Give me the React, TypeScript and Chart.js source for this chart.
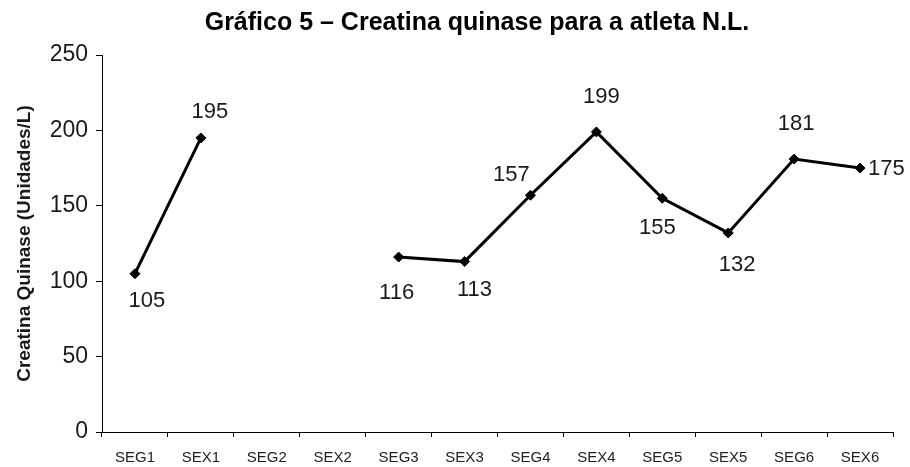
import React, { useEffect, useRef } from "react";
import { Chart, registerables } from "chart.js";

Chart.register(...registerables);

const titleText = "Gráfico 5 – Creatina quinase para a atleta N.L.";
const yAxisTitle = "Creatina Quinase (Unidades/L)";
const categories = ["SEG1", "SEX1", "SEG2", "SEX2", "SEG3", "SEX3", "SEG4", "SEX4", "SEG5", "SEX5", "SEG6", "SEX6"];
const ckValues: (number | null)[] = [105, 195, null, null, 116, 113, 157, 199, 155, 132, 181, 175];
const yTicks = [0, 50, 100, 150, 200, 250];

// label placement relative to each point (style only)
const labelOffsets: ([number, number, string] | null)[] = [
  [12, 27, "center"],
  [9, -26, "center"],
  null,
  null,
  [-2, 36, "center"],
  [10, 28, "center"],
  [-19, -20, "center"],
  [5, -35, "center"],
  [-5, 30, "center"],
  [9, 32, "center"],
  [2, -35, "center"],
  [8, 1, "left"],
];

const FONT = "'Liberation Sans', Arial, Helvetica, sans-serif";

const dataLabelPlugin = {
  id: "dataLabelsCustom",
  afterDatasetsDraw(chart: any) {
    const ctx = chart.ctx;
    const meta = chart.getDatasetMeta(0);
    ctx.save();
    ctx.font = `22px ${FONT}`;
    ctx.fillStyle = "#1a1a1a";
    ctx.textBaseline = "middle";
    meta.data.forEach((pt: any, i: number) => {
      const v = ckValues[i];
      const off = labelOffsets[i];
      if (v == null || !off) return;
      ctx.textAlign = off[2] as CanvasTextAlign;
      ctx.fillText(String(v), pt.x + off[0], pt.y + off[1]);
    });
    ctx.restore();
  },
};

const titlePlugin = {
  id: "customTitle",
  afterDraw(chart: any) {
    const ctx = chart.ctx;
    ctx.save();
    ctx.font = `bold 25px ${FONT}`;
    ctx.fillStyle = "#000";
    ctx.textAlign = "center";
    ctx.textBaseline = "middle";
    ctx.fillText(titleText, 477, 23);
    ctx.restore();
  },
};

export default function App() {
  const ref = useRef<HTMLCanvasElement>(null);
  useEffect(() => {
    if (!ref.current) return;
    const chart = new Chart(ref.current, {
      type: "line",
      data: {
        labels: categories,
        datasets: [
          {
            data: ckValues,
            borderColor: "#000",
            backgroundColor: "#000",
            borderWidth: 3,
            pointStyle: "rectRot",
            pointRadius: 5,
            pointBorderWidth: 1,
            spanGaps: false,
            tension: 0,
          },
        ],
      },
      options: {
        responsive: false,
        animation: false,
        layout: { padding: { top: 55, right: 17, bottom: 0, left: 0 } },
        plugins: {
          legend: { display: false },
          tooltip: { enabled: false },
          title: { display: false },
        },
        scales: {
          x: {
            type: "category",
            offset: true,
            grid: {
              offset: true,
              drawOnChartArea: false,
              drawTicks: true,
              tickLength: 5,
              color: "#000",
            },
            border: { display: true, color: "#000", width: 1 },
            ticks: {
              color: "#222",
              font: { family: FONT, size: 15 },
              padding: 12,
              maxRotation: 0,
              autoSkip: false,
            },
            afterFit(scale: any) {
              scale.height = 35;
            },
          },
          y: {
            min: 0,
            max: 250,
            afterBuildTicks(scale: any) {
              scale.ticks = yTicks.map((v) => ({ value: v }));
            },
            grid: {
              drawOnChartArea: false,
              drawTicks: true,
              tickLength: 6,
              color: "#000",
            },
            border: { display: true, color: "#000", width: 1 },
            ticks: {
              color: "#1a1a1a",
              font: { family: FONT, size: 23 },
              padding: 8,
            },
            title: {
              display: true,
              text: yAxisTitle,
              color: "#1a1a1a",
              font: { family: FONT, size: 19, weight: "bold" },
              padding: { top: 13, bottom: 0 },
            },
            afterFit(scale: any) {
              scale.width = 102;
            },
          },
        },
      },
      plugins: [dataLabelPlugin, titlePlugin],
    });
    return () => chart.destroy();
  }, []);
  return (
    <div style={{ position: "absolute", left: 0, top: 0, width: 910, height: 467, background: "#fff" }}>
      <canvas ref={ref} width={910} height={467} style={{ display: "block" }} />
    </div>
  );
}
